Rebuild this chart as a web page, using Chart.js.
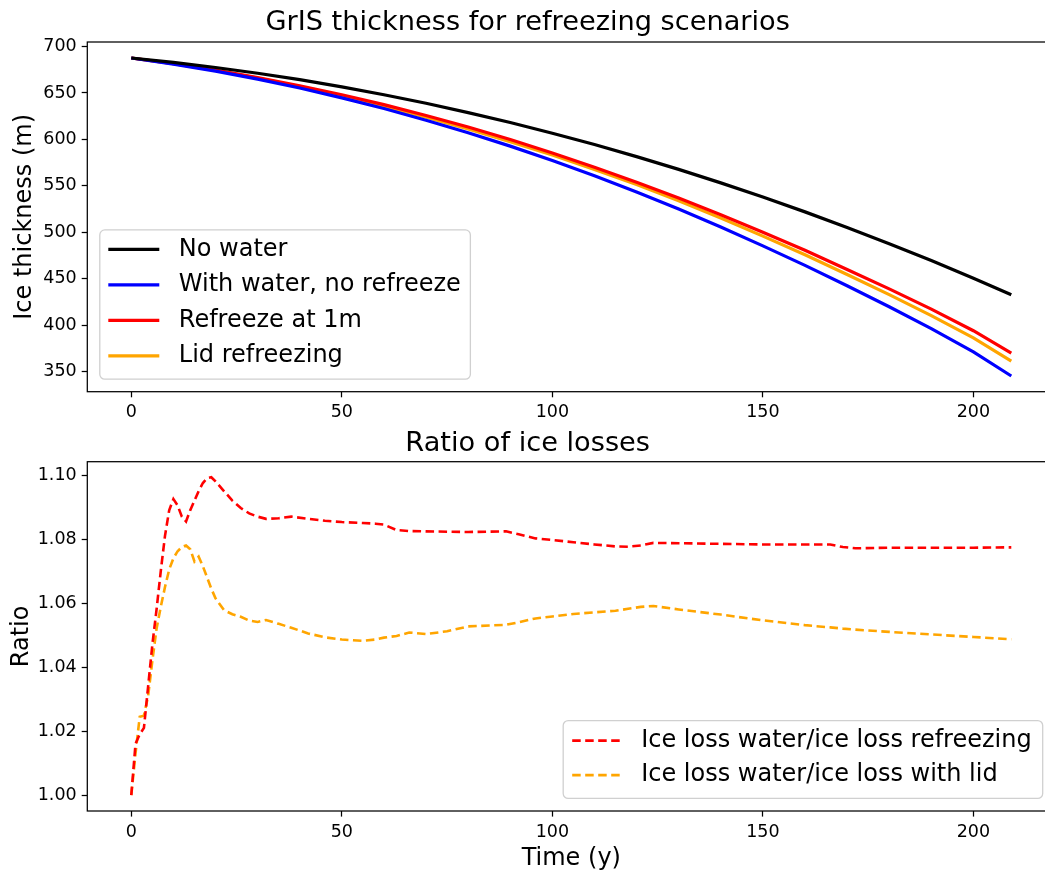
<!DOCTYPE html>
<html>
<head>
<meta charset="utf-8">
<script src="https://cdn.jsdelivr.net/npm/chart.js@4.4.1/dist/chart.umd.min.js"></script>
<style>
  html, body { margin: 0; padding: 0; background: #fff; overflow: hidden; width: 1045px; height: 871px; }
  canvas { position: absolute; left: 0; }
  #thick { top: 0; }
  #ratio { top: 420px; }
</style>
</head>
<body>
<canvas id="thick" width="1060" height="430"></canvas>
<canvas id="ratio" width="1060" height="453"></canvas>
<script>
// ice thickness (m), every 10 years
const years = [0, 10, 20, 30, 40, 50, 60, 70, 80, 90, 100, 110, 120, 130, 140, 150, 160, 170, 180, 190, 200, 209];
const noWater = [687.6, 682.9, 677.4, 671.2, 664.3, 656.5, 648.1, 638.9, 628.9, 618.2, 606.7, 594.5, 581.5, 567.8, 553.3, 538.1, 522.1, 505.4, 487.9, 469.7, 450.7, 433.0];
const withWater = [687.6, 681.0, 673.4, 664.8, 655.3, 644.7, 633.2, 620.7, 607.3, 592.8, 577.4, 561.0, 543.6, 525.2, 505.8, 485.5, 464.6, 442.6, 420.1, 396.6, 371.6, 345.6];
const refreeze1m = [687.6, 681.6, 674.7, 666.6, 657.8, 648.1, 637.5, 625.8, 613.4, 600.0, 585.5, 570.2, 554.0, 537.0, 519.1, 500.2, 480.8, 460.2, 439.3, 417.5, 394.3, 370.2];
const lidRefreeze = [687.6, 681.5, 674.2, 666.0, 656.8, 646.7, 635.8, 623.9, 611.3, 597.6, 583.2, 567.8, 551.5, 534.1, 515.5, 496.0, 475.9, 454.7, 433.1, 410.5, 386.5, 361.5];
const thicknessTicks = [350, 400, 450, 500, 550, 600, 650, 700];

// ratio of ice losses
const ratioYears = [0, 1, 2, 3, 4, 5, 6, 7, 8, 9, 10, 11, 12, 13, 14, 15, 16, 17, 18, 19, 20,
  22, 24, 26, 28, 30, 32, 35, 38, 42, 46, 50, 55, 58, 60, 63, 66, 70, 75, 80, 85, 89, 92, 96, 100,
  105, 110, 115, 118, 121, 124, 130, 140, 150, 160, 166, 169, 172, 180, 190, 200, 209];
const ratioRefreeze = [1.000, 1.016, 1.019, 1.021, 1.034, 1.047, 1.058, 1.070, 1.081, 1.089, 1.0925, 1.0905, 1.087, 1.0855, 1.089, 1.092, 1.095, 1.0975, 1.099, 1.0993, 1.098,
  1.095, 1.092, 1.0897, 1.088, 1.087, 1.0863, 1.0865, 1.087, 1.0863, 1.0857, 1.0853, 1.085, 1.0848, 1.0845, 1.0828, 1.0825, 1.0824, 1.0823, 1.0822, 1.0823, 1.0824, 1.0815, 1.0802, 1.0797,
  1.079, 1.0783, 1.0777, 1.0776, 1.078, 1.0788, 1.0787, 1.0785, 1.0783, 1.0783, 1.0783, 1.0775, 1.0771, 1.0773, 1.0773, 1.0773, 1.0774];
const ratioLid = [1.000, 1.013, 1.0245, 1.0248, 1.031, 1.042, 1.052, 1.0588, 1.065, 1.0705, 1.074, 1.0762, 1.0775, 1.078, 1.0768, 1.073, 1.0745, 1.0715, 1.068, 1.0645, 1.0615,
  1.0578, 1.0565, 1.0557, 1.0545, 1.0541, 1.0547, 1.0535, 1.0523, 1.0505, 1.0493, 1.0486, 1.0482, 1.0486, 1.0492, 1.0497, 1.0508, 1.0503, 1.0512, 1.0527, 1.053, 1.0532, 1.054, 1.0552, 1.0558,
  1.0566, 1.0571, 1.0576, 1.0582, 1.0588, 1.0591, 1.058, 1.0564, 1.0546, 1.0531, 1.0524, 1.052, 1.0517, 1.051, 1.0502, 1.0494, 1.0487];
const ratioTicks = [1.00, 1.02, 1.04, 1.06, 1.08, 1.10];
const timeTicks = [0, 50, 100, 150, 200];

const FONT = "'DejaVu Sans', sans-serif";

const pts = (xs, ys) => xs.map((x, i) => ({ x: x, y: ys[i] }));

// axes box (matplotlib spines)
const frame = {
  id: 'frame',
  afterDraw(chart) {
    const { ctx, chartArea: a } = chart;
    ctx.save();
    ctx.strokeStyle = '#000';
    ctx.lineWidth = 1.25;
    ctx.strokeRect(a.left, a.top, a.right - a.left, a.bottom - a.top);
    ctx.restore();
  }
};

// legend drawn inside the plot area, matplotlib style
const insideLegend = {
  id: 'insideLegend',
  afterDatasetsDraw(chart, args, o) {
    const { ctx, chartArea: a } = chart;
    const sets = chart.data.datasets;
    ctx.save();
    ctx.font = '24px ' + FONT;
    const textW = Math.max(...sets.map(d => ctx.measureText(d.label).width));
    const w = o.padL + o.handle + o.gap + textW + o.padR;
    const h = o.padT + o.row * (sets.length - 1) + o.padB;
    const x = o.corner === 'right' ? a.right - o.inset - w : a.left + o.inset;
    const y = a.bottom - o.inset - h;
    ctx.beginPath();
    ctx.roundRect(x, y, w, h, 5);
    ctx.fillStyle = 'rgba(255,255,255,0.8)';
    ctx.fill();
    ctx.strokeStyle = '#d0d0d0';
    ctx.lineWidth = 1.3;
    ctx.stroke();
    sets.forEach((d, i) => {
      const cy = y + o.padT + i * o.row;
      ctx.beginPath();
      ctx.setLineDash(d.borderDash || []);
      ctx.strokeStyle = d.borderColor;
      ctx.lineWidth = d.borderWidth;
      ctx.moveTo(x + o.padL, cy);
      ctx.lineTo(x + o.padL + o.handle, cy);
      ctx.stroke();
      ctx.setLineDash([]);
      ctx.fillStyle = '#000';
      ctx.textBaseline = 'middle';
      ctx.textAlign = 'left';
      ctx.fillText(d.label, x + o.padL + o.handle + o.gap, cy);
    });
    ctx.restore();
  }
};

function axisX(min, max, height, title) {
  return {
    type: 'linear', min: min, max: max,
    afterFit: s => { s.height = height; },
    afterBuildTicks: s => { s.ticks = timeTicks.map(v => ({ value: v })); },
    grid: { drawOnChartArea: false, tickLength: 5.6, tickWidth: 1.25, tickColor: '#000' },
    border: { display: false },
    ticks: { color: '#000', padding: 5, font: { family: FONT, size: 17.5 } },
    title: title ? { display: true, text: title, color: '#000', padding: { top: 0, bottom: 0 }, font: { family: FONT, size: 24 } } : { display: false }
  };
}

function axisY(min, max, tickVals, fmt, title, titlePad) {
  return {
    type: 'linear', min: min, max: max,
    afterFit: s => { s.width = 87.3; },
    afterBuildTicks: s => { s.ticks = tickVals.map(v => ({ value: v })); },
    grid: { drawOnChartArea: false, tickLength: 5.6, tickWidth: 1.25, tickColor: '#000' },
    border: { display: false },
    ticks: { color: '#000', padding: 5, font: { family: FONT, size: 17.5 }, callback: fmt },
    title: { display: true, text: title, color: '#000', padding: { top: titlePad, bottom: 0 }, font: { family: FONT, size: 24 } }
  };
}

function line(label, xs, ys, color, width, dash) {
  return {
    label: label, data: pts(xs, ys), borderColor: color, backgroundColor: color,
    borderWidth: width, borderDash: dash || [], pointRadius: 0, tension: 0, fill: false
  };
}

new Chart(document.getElementById('thick'), {
  type: 'line',
  data: {
    datasets: [
      line('No water', years, noWater, '#000000', 3.2),
      line('With water, no refreeze', years, withWater, '#0000ff', 3.2),
      line('Refreeze at 1m', years, refreeze1m, '#ff0000', 3.2),
      line('Lid refreezing', years, lidRefreeze, '#ffa500', 3.2)
    ]
  },
  options: {
    responsive: false, animation: false, devicePixelRatio: 1,
    layout: { padding: { left: 0, right: 4.7, top: 0, bottom: 0 } },
    scales: {
      x: axisX(-10.45, 219.45, 38.3, null),
      y: axisY(328.7, 704.8, thicknessTicks, v => String(v), 'Ice thickness (m)', 10.5)
    },
    plugins: {
      legend: { display: false },
      tooltip: { enabled: false },
      title: { display: true, text: 'GrIS thickness for refreezing scenarios', color: '#000',
        font: { family: FONT, size: 27.2, weight: 'normal' }, padding: { top: 6.7, bottom: 2.66 } },
      insideLegend: { corner: 'left', inset: 12.5, padL: 8.5, handle: 51, gap: 19.5, padR: 9.5, padT: 19.5, row: 35.5, padB: 23.3 }
    }
  },
  plugins: [insideLegend, frame]
});

new Chart(document.getElementById('ratio'), {
  type: 'line',
  data: {
    datasets: [
      line('Ice loss water/ice loss refreezing', ratioYears, ratioRefreeze, '#ff0000', 2.6, [8.5, 4.5]),
      line('Ice loss water/ice loss with lid', ratioYears, ratioLid, '#ffa500', 2.6, [8.5, 4.5])
    ]
  },
  options: {
    responsive: false, animation: false, devicePixelRatio: 1,
    layout: { padding: { left: 0, right: 4.7, top: 0, bottom: 0 } },
    scales: {
      x: axisX(-10.45, 219.45, 62, 'Time (y)'),
      y: axisY(0.99504, 1.10416, ratioTicks, v => v.toFixed(2), 'Ratio', 7.8)
    },
    plugins: {
      legend: { display: false },
      tooltip: { enabled: false },
      title: { display: true, text: 'Ratio of ice losses', color: '#000',
        font: { family: FONT, size: 27.2, weight: 'normal' }, padding: { top: 7.5, bottom: 1.56 } },
      insideLegend: { corner: 'right', inset: 12.6, padL: 9, handle: 49, gap: 20, padR: 11, padT: 20, row: 34.5, padB: 23.3 }
    }
  },
  plugins: [insideLegend, frame]
});
</script>
</body>
</html>
